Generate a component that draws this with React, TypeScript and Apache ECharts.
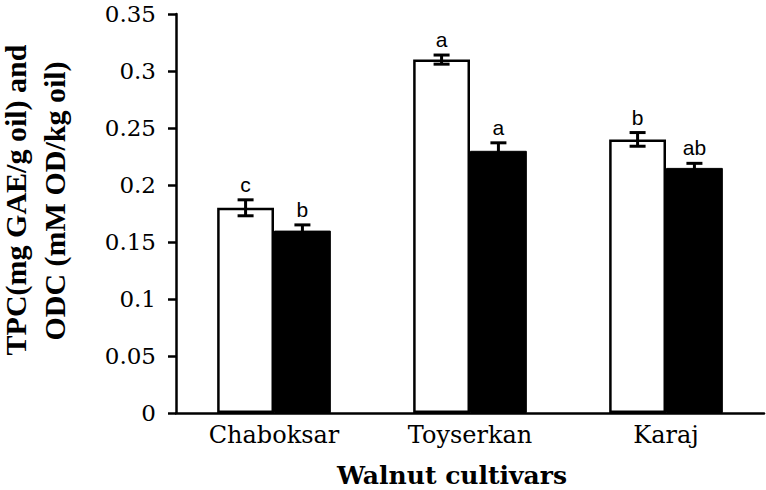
import React, { useEffect, useRef } from "react";
import * as echarts from "echarts";

const categories = ["Chaboksar", "Toyserkan", "Karaj"];
const tpcValues = [0.18, 0.31, 0.24];
const tpcErrors = [0.007, 0.004, 0.006];
const tpcLetters = ["c", "a", "b"];
const odcValues = [0.16, 0.23, 0.215];
const odcErrors = [0.005, 0.007, 0.004];
const odcLetters = ["b", "a", "ab"];
const yTitleLine1 = "TPC(mg GAE/g oil) and";
const yTitleLine2 = "ODC (mM OD/kg oil)";
const xTitle = "Walnut cultivars";

const BAR_FRAC = 0.29;

export default function App() {
  const ref = useRef<HTMLDivElement>(null);
  useEffect(() => {
    document.body.style.margin = "0";
    const chart = echarts.init(ref.current!, null, { renderer: "svg" });
    const errData: any[] = [];
    categories.forEach((_, i) => {
      errData.push([i, tpcValues[i], tpcErrors[i], tpcLetters[i], 0]);
      errData.push([i, odcValues[i], odcErrors[i], odcLetters[i], 1]);
    });
    chart.setOption({
      animation: false,
      grid: { left: 176, right: 2, top: 14, bottom: 77 },
      xAxis: {
        type: "category",
        data: categories,
        axisTick: { show: false },
        axisLine: { lineStyle: { color: "#000", width: 2.5 } },
        axisLabel: {
          color: "#000",
          fontFamily: "DejaVu Serif",
          fontSize: 24,
          margin: 10,
        },
      },
      yAxis: {
        type: "value",
        min: 0,
        max: 0.35,
        interval: 0.05,
        splitLine: { show: false },
        axisLine: { show: true, lineStyle: { color: "#000", width: 2.5 } },
        axisTick: { show: true, inside: false, length: 8, lineStyle: { color: "#000", width: 2.5 } },
        axisLabel: {
          color: "#000",
          fontFamily: "DejaVu Serif",
          fontSize: 23,
          margin: 20,
        },
      },
      graphic: [
        {
          type: "text",
          x: 15,
          y: 200,
          rotation: Math.PI / 2,
          style: {
            text: yTitleLine1,
            fontFamily: "Liberation Serif",
            fontWeight: "bold",
            fontSize: 30,
            fill: "#000",
            textAlign: "center",
            textVerticalAlign: "middle",
          },
        },
        {
          type: "text",
          x: 54,
          y: 201,
          rotation: Math.PI / 2,
          style: {
            text: yTitleLine2,
            fontFamily: "Liberation Serif",
            fontWeight: "bold",
            fontSize: 30,
            fill: "#000",
            textAlign: "center",
            textVerticalAlign: "middle",
          },
        },
        {
          type: "text",
          x: 452,
          y: 475,
          style: {
            text: xTitle,
            fontFamily: "DejaVu Serif",
            fontWeight: "bold",
            fontSize: 25,
            fill: "#000",
            textAlign: "center",
            textVerticalAlign: "middle",
          },
        },
      ],
      series: [
        {
          type: "bar",
          data: tpcValues,
          barWidth: BAR_FRAC * 100 + "%",
          barGap: "0%",
          itemStyle: { color: "#fff", borderColor: "#000", borderWidth: 2.5 },
        },
        {
          type: "bar",
          data: odcValues,
          barWidth: BAR_FRAC * 100 + "%",
          barGap: "0%",
          itemStyle: { color: "#000", borderColor: "#000", borderWidth: 1 },
        },
        {
          type: "custom",
          data: errData,
          encode: { x: 0, y: 1 },
          z: 10,
          renderItem: (params: any, api: any) => {
            const idx = api.value(0);
            const v = api.value(1);
            const e = api.value(2);
            const letter = errData[params.dataIndex][3];
            const s = api.value(4);
            const band = api.size([1, 0])[0];
            const c = api.coord([idx, v]);
            const cx = c[0] + (s === 0 ? -1 : 1) * band * BAR_FRAC / 2;
            const top = api.coord([idx, v + e])[1];
            const bot = api.coord([idx, v - e])[1];
            const hw = 8;
            const ls = { stroke: "#000", lineWidth: 3 };
            return {
              type: "group",
              children: [
                { type: "line", shape: { x1: cx, y1: top, x2: cx, y2: bot }, style: ls },
                { type: "line", shape: { x1: cx - hw, y1: top, x2: cx + hw, y2: top }, style: ls },
                { type: "line", shape: { x1: cx - hw, y1: bot, x2: cx + hw, y2: bot }, style: ls },
                {
                  type: "text",
                  x: cx,
                  y: top - 5,
                  style: {
                    text: letter,
                    fontFamily: "Liberation Sans",
                    fontSize: 21,
                    fill: "#000",
                    textAlign: "center",
                    textVerticalAlign: "bottom",
                  },
                },
              ],
            };
          },
        },
      ],
    });
    return () => chart.dispose();
  }, []);
  return <div ref={ref} style={{ width: 766, height: 490 }} />;
}
